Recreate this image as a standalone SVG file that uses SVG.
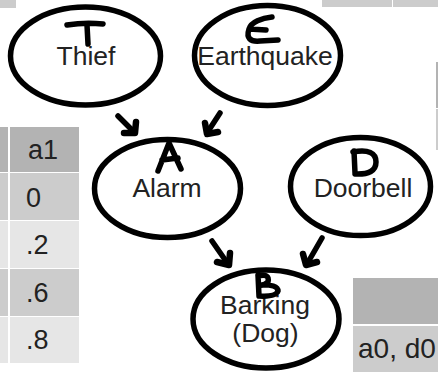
<svg xmlns="http://www.w3.org/2000/svg" width="438" height="372" viewBox="0 0 438 372">
  <style>
    .node { fill: #ffffff; stroke: #000000; stroke-width: 5.5; }
    .label { font-family: "Liberation Sans", Arial, sans-serif; font-size: 26.5px; fill: #222222; text-anchor: middle; }
    .cell { font-family: "Liberation Sans", Arial, sans-serif; font-size: 27px; fill: #222222; }
    .ink { fill: none; stroke: #000000; stroke-width: 5.5; stroke-linecap: round; stroke-linejoin: round; }
    .head { fill: none; stroke: #000000; stroke-width: 6.5; stroke-linecap: round; stroke-linejoin: round; }
    .hdr { fill: #b3b3b3; }
    .dark { fill: #cccccc; }
    .light { fill: #e6e6e6; }
  </style>

  <!-- table fragments at the edges -->
  <g id="table-top-left">
    <rect class="dark" x="0" y="0" width="16" height="8"/>
  </g>
  <g id="table-top-right">
    <rect class="dark" x="322" y="0" width="70" height="7"/>
    <rect class="dark" x="393" y="0" width="45" height="7"/>
  </g>
  <g id="table-right-edge">
    <rect class="hdr" x="436" y="62" width="2" height="46"/>
    <rect class="dark" x="436" y="109" width="2" height="41"/>
  </g>

  <!-- conditional table, left -->
  <g id="table-left">
    <rect class="hdr" x="0" y="127" width="8" height="45"/>
    <rect class="hdr" x="10" y="127" width="69" height="45"/>
    <rect class="dark" x="0" y="173" width="8" height="47"/>
    <rect class="dark" x="10" y="173" width="69" height="47"/>
    <rect class="light" x="0" y="221" width="8" height="47"/>
    <rect class="light" x="10" y="221" width="69" height="47"/>
    <rect class="dark" x="0" y="269" width="8" height="47"/>
    <rect class="dark" x="10" y="269" width="69" height="47"/>
    <rect class="light" x="0" y="317" width="8" height="46"/>
    <rect class="light" x="10" y="317" width="69" height="46"/>
    <text class="cell" x="28" y="159">a1</text>
    <text class="cell" x="26" y="207">0</text>
    <text class="cell" x="26" y="254">.2</text>
    <text class="cell" x="26" y="302">.6</text>
    <text class="cell" x="26" y="349">.8</text>
  </g>

  <!-- conditional table, bottom right -->
  <g id="table-bottom-right">
    <rect class="hdr" x="353" y="278" width="85" height="46"/>
    <rect class="dark" x="353" y="326" width="85" height="46"/>
    <text class="cell" x="358" y="358" style="font-size:28px">a0, d0</text>
  </g>

  <!-- nodes -->
  <g id="thief">
    <ellipse class="node" cx="85.5" cy="56" rx="75" ry="49"/>
    <text class="label" x="86" y="65">Thief</text>
    <path class="ink" d="M67 25 Q85 22 103 24 M87 25 L88 44"/>
  </g>
  <g id="earthquake">
    <ellipse class="node" cx="267.5" cy="55.5" rx="73" ry="50"/>
    <text class="label" x="265" y="65">Earthquake</text>
    <path class="ink" d="M272 17 C262 18 251 22 249 29 L266 30 M249 29 C246 38 250 42 260 41 L278 40"/>
  </g>
  <g id="alarm">
    <ellipse class="node" cx="167.5" cy="188.5" rx="73" ry="49"/>
    <text class="label" x="167" y="197">Alarm</text>
    <path class="ink" d="M158 171 L169 143 L181 169 M162 160 L178 158"/>
  </g>
  <g id="doorbell">
    <ellipse class="node" cx="360.5" cy="186.5" rx="70" ry="49"/>
    <text class="label" x="363" y="197">Doorbell</text>
    <path class="ink" d="M354 151 L355 173 M353 152 Q376 148 376 162 Q376 175 355 174"/>
  </g>
  <g id="barking">
    <ellipse class="node" cx="266" cy="319" rx="73" ry="49"/>
    <text class="label" x="265" y="314">Barking</text>
    <text class="label" x="265.5" y="342">(Dog)</text>
    <path class="ink" d="M258 275 L259 296 M258 276 Q270 273 268 282 Q264 286 259 285 Q278 284 278 291 Q276 297 259 296"/>
  </g>

  <!-- connectors -->
  <g id="connectors">
    <path class="ink" d="M118 116 L134 132"/>
    <path class="head" d="M124 133 L135 133 L136 122"/>
    <path class="ink" d="M220 113 L207 133"/>
    <path class="head" d="M218 132 L207 134 L205 123"/>
    <path class="ink" d="M212 241 L228 264"/>
    <path class="head" d="M230 253 L229 265 L217 262"/>
    <path class="ink" d="M322 238 L307 264"/>
    <path class="head" d="M317 262 L306 265 L303 254"/>
  </g>
</svg>
